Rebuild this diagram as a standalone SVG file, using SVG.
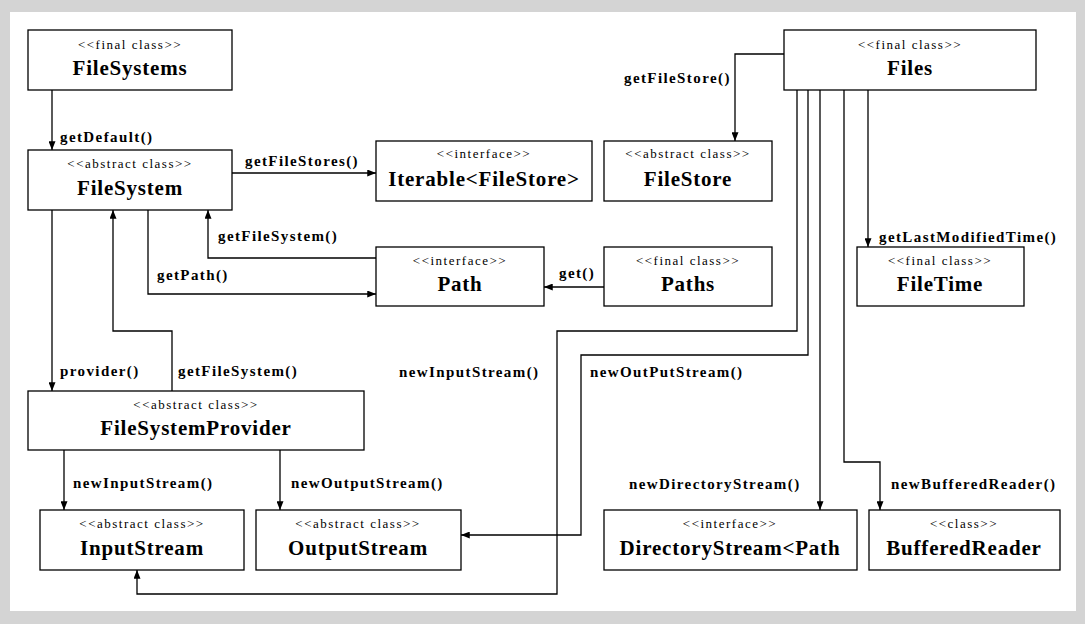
<svg xmlns="http://www.w3.org/2000/svg" width="1085" height="624" viewBox="0 0 1085 624">
<defs>
<marker id="ah" viewBox="0 0 10 8" refX="10" refY="4" markerWidth="9" markerHeight="7" markerUnits="userSpaceOnUse" orient="auto">
<path d="M0,0 L10,4 L0,8 z" fill="#000"/>
</marker>
<style>
.box{fill:#fff;stroke:#000;stroke-width:1.3}
.st{font-family:"Liberation Serif","Times New Roman",serif;font-size:13px;letter-spacing:1.5px;text-anchor:middle;fill:#000}
.nm{font-family:"Liberation Serif","Times New Roman",serif;font-size:21px;font-weight:bold;letter-spacing:0.8px;text-anchor:middle;fill:#000}
.lb{font-family:"Liberation Serif","Times New Roman",serif;font-size:15px;font-weight:bold;letter-spacing:1.4px;fill:#000}
.cn{fill:none;stroke:#000;stroke-width:1.3}
.ar{marker-end:url(#ah)}
</style>
</defs>
<rect x="0" y="0" width="1085" height="624" fill="#d4d4d4"/>
<rect x="10" y="12" width="1066" height="599" fill="#fff"/>

<g id="connectors">
<path class="cn ar" d="M52,90 V150"/>
<path class="cn ar" d="M232,173 H376"/>
<path class="cn ar" d="M784,54 H735 V141"/>
<path class="cn ar" d="M376,258 H208 V210"/>
<path class="cn ar" d="M148,210 V294 H376"/>
<path class="cn ar" d="M604,287 H544"/>
<path class="cn ar" d="M52,210 V391"/>
<path class="cn ar" d="M172,391 V331 H113 V210"/>
<path class="cn ar" d="M64,450 V510"/>
<path class="cn ar" d="M280,450 V510"/>
<path class="cn ar" d="M797,90 V331 H557 V594 H137 V570"/>
<path class="cn ar" d="M808,90 V355 H581 V535 H461"/>
<path class="cn ar" d="M820,90 V510"/>
<path class="cn ar" d="M844,90 V462 H880 V510"/>
<path class="cn ar" d="M868,90 V247"/>
<text class="lb" x="60" y="142">getDefault()</text>
<text class="lb" x="245" y="166">getFileStores()</text>
<text class="lb" x="624" y="83">getFileStore()</text>
<text class="lb" x="218" y="241">getFileSystem()</text>
<text class="lb" x="157" y="280">getPath()</text>
<text class="lb" x="559" y="278">get()</text>
<text class="lb" x="60" y="376">provider()</text>
<text class="lb" x="178" y="376">getFileSystem()</text>
<text class="lb" x="399" y="377">newInputStream()</text>
<text class="lb" x="590" y="377">newOutPutStream()</text>
<text class="lb" x="879" y="242">getLastModifiedTime()</text>
<text class="lb" x="73" y="488">newInputStream()</text>
<text class="lb" x="291" y="488">newOutputStream()</text>
<text class="lb" x="629" y="489">newDirectoryStream()</text>
<text class="lb" x="891" y="489">newBufferedReader()</text>
</g>

<g id="FileSystems"><rect class="box" x="28" y="30" width="204" height="60"/><text class="st" x="130" y="49">&lt;&lt;final class&gt;&gt;</text><text class="nm" x="130" y="75">FileSystems</text></g>
<g id="FileSystem"><rect class="box" x="28" y="150" width="204" height="60"/><text class="st" x="130" y="168">&lt;&lt;abstract class&gt;&gt;</text><text class="nm" x="130" y="195">FileSystem</text></g>
<g id="Iterable"><rect class="box" x="376" y="141" width="216" height="60"/><text class="st" x="484" y="158">&lt;&lt;interface&gt;&gt;</text><text class="nm" x="484" y="186">Iterable&lt;FileStore&gt;</text></g>
<g id="FileStore"><rect class="box" x="604" y="141" width="168" height="60"/><text class="st" x="688" y="158">&lt;&lt;abstract class&gt;&gt;</text><text class="nm" x="688" y="186">FileStore</text></g>
<g id="Files"><rect class="box" x="784" y="30" width="252" height="60"/><text class="st" x="910" y="49">&lt;&lt;final class&gt;&gt;</text><text class="nm" x="910" y="75">Files</text></g>
<g id="FileTime"><rect class="box" x="857" y="247" width="167" height="59"/><text class="st" x="940" y="265">&lt;&lt;final class&gt;&gt;</text><text class="nm" x="940" y="291">FileTime</text></g>
<g id="Path"><rect class="box" x="376" y="247" width="168" height="59"/><text class="st" x="460" y="265">&lt;&lt;interface&gt;&gt;</text><text class="nm" x="460" y="291">Path</text></g>
<g id="Paths"><rect class="box" x="604" y="247" width="168" height="59"/><text class="st" x="688" y="265">&lt;&lt;final class&gt;&gt;</text><text class="nm" x="688" y="291">Paths</text></g>
<g id="FileSystemProvider"><rect class="box" x="28" y="391" width="336" height="59"/><text class="st" x="196" y="409">&lt;&lt;abstract class&gt;&gt;</text><text class="nm" x="196" y="435">FileSystemProvider</text></g>
<g id="InputStream"><rect class="box" x="40" y="510" width="204" height="60"/><text class="st" x="142" y="528">&lt;&lt;abstract class&gt;&gt;</text><text class="nm" x="142" y="555">InputStream</text></g>
<g id="OutputStream"><rect class="box" x="256" y="510" width="205" height="60"/><text class="st" x="358" y="528">&lt;&lt;abstract class&gt;&gt;</text><text class="nm" x="358" y="555">OutputStream</text></g>
<g id="DirectoryStream"><rect class="box" x="604" y="510" width="253" height="60"/><text class="st" x="730" y="528">&lt;&lt;interface&gt;&gt;</text><text class="nm" x="730" y="555">DirectoryStream&lt;Path</text></g>
<g id="BufferedReader"><rect class="box" x="869" y="510" width="191" height="60"/><text class="st" x="964" y="528">&lt;&lt;class&gt;&gt;</text><text class="nm" x="964" y="555">BufferedReader</text></g>
</svg>
